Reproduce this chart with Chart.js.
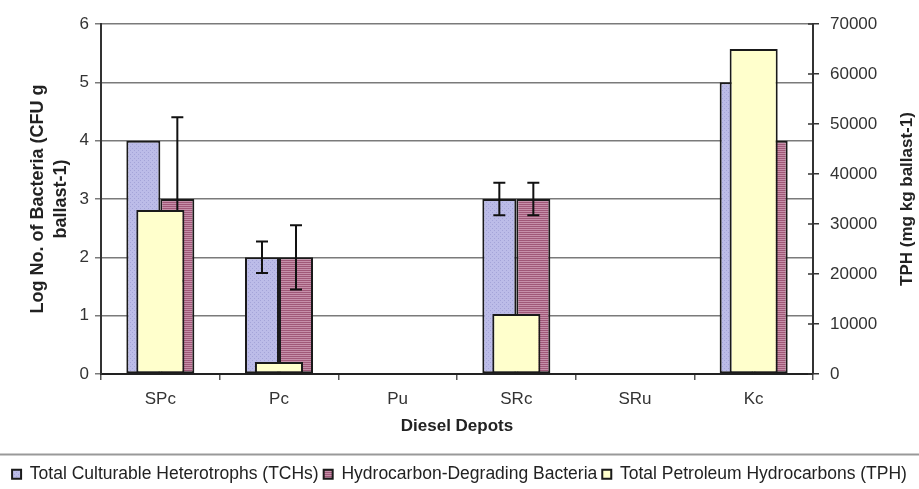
<!DOCTYPE html>
<html>
<head>
<meta charset="utf-8">
<script src="https://cdn.jsdelivr.net/npm/chart.js@4.4.0/dist/chart.umd.min.js"></script>
<style>
  html, body { margin: 0; padding: 0; background: #fff; }
  #wrap { width: 919px; height: 489px; position: relative; }
</style>
</head>
<body>
<div id="wrap"><canvas id="DEPOTS"></canvas></div>
<script>
const depots = ['SPc', 'Pc', 'Pu', 'SRc', 'SRu', 'Kc'];
const tch = [4, 2, 0, 3, 0, 5];
const tchErr = [0, 0.27, 0, 0.28, 0, 0];
const hdb = [3, 2, 0, 3, 0, 4];
const hdbErr = [1.4, 0.55, 0, 0.28, 0, 0];
const tph = [32800, 2400, 0, 12000, 0, 65000];

const leftTitle = ['Log No. of Bacteria (CFU g', 'ballast-1)'];
const rightTitle = 'TPH (mg kg ballast-1)';
const xTitle = 'Diesel Depots';

Chart.defaults.font.family = '"Liberation Sans", Arial, sans-serif';

// excel-like fill textures
function makePattern(base, mark, rows) {
  const c = document.createElement('canvas');
  c.width = 4; c.height = 4;
  const g = c.getContext('2d');
  g.fillStyle = base;
  g.fillRect(0, 0, 4, 4);
  g.fillStyle = mark;
  if (rows) {
    g.fillRect(0, 0, 4, 1);
    g.fillRect(0, 2, 4, 1);
  } else {
    g.fillRect(0, 0, 1, 1);
    g.fillRect(2, 2, 1, 1);
  }
  return g.createPattern(c, 'repeat');
}

const errorBars = {
  id: 'errorBars',
  afterDatasetDraw(chart, args) {
    const ds = chart.data.datasets[args.index];
    if (!ds.errors) return;
    const ctx = chart.ctx;
    const y = chart.scales.y;
    ctx.save();
    ctx.strokeStyle = '#111';
    ctx.lineWidth = 2;
    args.meta.data.forEach((bar, i) => {
      const e = ds.errors[i];
      if (!e) return;
      const top = y.getPixelForValue(ds.data[i] + e);
      const bot = y.getPixelForValue(ds.data[i] - e);
      ctx.beginPath();
      ctx.moveTo(bar.x, top); ctx.lineTo(bar.x, bot);
      ctx.moveTo(bar.x - 6, top); ctx.lineTo(bar.x + 6, top);
      ctx.moveTo(bar.x - 6, bot); ctx.lineTo(bar.x + 6, bot);
      ctx.stroke();
    });
    ctx.restore();
  }
};

const extras = {
  id: 'extras',
  afterDraw(chart) {
    const ctx = chart.ctx;
    const ca = chart.chartArea;
    const y2 = chart.scales.y2;
    ctx.save();
    // inner half of the right axis ticks
    ctx.strokeStyle = '#333';
    ctx.lineWidth = 1.5;
    y2.ticks.forEach(t => {
      const py = y2.getPixelForValue(t.value);
      ctx.beginPath();
      ctx.moveTo(ca.right - 5, py);
      ctx.lineTo(ca.right, py);
      ctx.stroke();
    });
    // right title reads bottom to top like the left one
    ctx.translate(chart.width - 12, (ca.top + ca.bottom) / 2);
    ctx.rotate(-Math.PI / 2);
    ctx.font = 'bold 17px "Liberation Sans", Arial, sans-serif';
    ctx.fillStyle = '#222';
    ctx.textAlign = 'center';
    ctx.textBaseline = 'middle';
    ctx.fillText(rightTitle, 0, 0);
    ctx.restore();
    // legend frame line
    const lg = chart.legend;
    ctx.save();
    ctx.strokeStyle = '#999';
    ctx.lineWidth = 2;
    ctx.beginPath();
    ctx.moveTo(0, lg.top - 6);
    ctx.lineTo(chart.width, lg.top - 6);
    ctx.stroke();
    ctx.restore();
  }
};

const graph = document.getElementById('DEPOTS');

new Chart(graph, {
  type: 'bar',
  data: {
    labels: depots,
    datasets: [
      {
        label: 'Total Culturable Heterotrophs (TCHs)',
        data: tch,
        errors: tchErr,
        stack: 'a',
        backgroundColor: makePattern('#bcbce8', '#a4a4d8', false),
        borderColor: '#1a1a1a',
        borderWidth: 2,
        borderSkipped: false,
        categoryPercentage: 0.573,
        barPercentage: 1.0,
        yAxisID: 'y',
        order: 1
      },
      {
        label: 'Hydrocarbon-Degrading Bacteria',
        data: hdb,
        errors: hdbErr,
        stack: 'b',
        backgroundColor: makePattern('#c690aa', '#a05878', true),
        borderColor: '#1a1a1a',
        borderWidth: 2,
        borderSkipped: false,
        categoryPercentage: 0.573,
        barPercentage: 1.0,
        yAxisID: 'y',
        order: 1
      },
      {
        label: 'Total Petroleum Hydrocarbons (TPH)',
        data: tph,
        stack: 'b',
        grouped: false,
        backgroundColor: '#ffffcc',
        borderColor: '#1a1a1a',
        borderWidth: 2,
        borderSkipped: false,
        categoryPercentage: 0.405,
        barPercentage: 1.0,
        yAxisID: 'y2',
        order: 0
      }
    ]
  },
  options: {
    responsive: true,
    maintainAspectRatio: false,
    animation: false,
    layout: { padding: { top: 24, left: 0, right: 0, bottom: -4 } },
    plugins: {
      tooltip: { enabled: false },
      legend: {
        position: 'bottom',
        labels: {
          font: { size: 17.5 },
          color: '#222',
          boxWidth: 9,
          boxHeight: 9,
          padding: 5,
          sort: (a, b) => a.datasetIndex - b.datasetIndex
        }
      }
    },
    scales: {
      x: {
        offset: true,
        grid: { drawOnChartArea: false, offset: true, tickLength: 6, color: '#555', lineWidth: 1.5 },
        border: { color: '#222', width: 2 },
        ticks: { font: { size: 17 }, color: '#333', padding: 9 },
        title: { display: true, text: xTitle, font: { size: 17, weight: 'bold' }, color: '#222', padding: { top: 4, bottom: 24 } },
        afterFit(s) { s.height = s.chart.height - s.chart.legend.height + 4 - 374; }
      },
      y: {
        position: 'left',
        min: 0, max: 6,
        ticks: { stepSize: 1, font: { size: 17 }, color: '#333', padding: 6 },
        grid: { color: '#7a7a7a', lineWidth: 1.5, tickLength: 6 },
        border: { color: '#333', width: 2 },
        title: { display: true, text: leftTitle, font: { size: 18, weight: 'bold', lineHeight: 1.3 }, color: '#222', padding: { top: 26, bottom: 0 } },
        afterFit(s) { s.width = 101; }
      },
      y2: {
        position: 'right',
        min: 0, max: 70000,
        ticks: { stepSize: 10000, font: { size: 17 }, color: '#333', padding: 11, callback: v => String(v) },
        grid: { drawOnChartArea: false, tickLength: 6, color: '#333', lineWidth: 1.5 },
        border: { color: '#333', width: 2 },
        afterFit(s) { s.width = 106; }
      }
    }
  },
  plugins: [errorBars, extras]
});
</script>
</body>
</html>
